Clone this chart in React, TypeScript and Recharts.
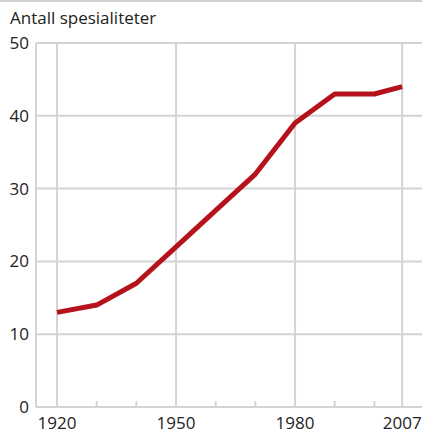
import { CartesianGrid, Line, LineChart, ReferenceLine, XAxis, YAxis } from "recharts"

const years = [1920, 1930, 1940, 1950, 1960, 1970, 1980, 1990, 2000, 2007]
const specialties = [13, 14, 17, 22, 27, 32, 39, 43, 43, 44]
const majorYears = [1920, 1950, 1980, 2007]
const yTicks = [0, 10, 20, 30, 40, 50]
const title = "Antall spesialiteter"

const data = years.map((year, i) => ({ year, value: specialties[i] }))

const FONT = "'Open Sans', 'Noto Sans', sans-serif"
const GRID = "#d4d4d4"

function YearTick(props: any) {
  const { x, y, payload } = props
  const major = majorYears.includes(payload.value)
  return (
    <g>
      {!major && <line x1={x} x2={x} y1={y} y2={y - 6} stroke={GRID} strokeWidth={2} />}
      {major && (
        <text x={x} y={y} dy={22} textAnchor="middle" fill="#222" fontSize={17} fontFamily={FONT}>
          {payload.value}
        </text>
      )}
    </g>
  )
}

export default function App() {
  return (
    <div style={{ position: "absolute", left: 0, top: 0, width: 422, height: 434, background: "#fff" }}>
      <div style={{ position: "absolute", left: 0, top: 0, width: 422, height: 0, borderTop: "2px solid #cfcfcf" }} />
      <div
        style={{
          position: "absolute",
          left: 10,
          top: 6,
          fontFamily: FONT,
          fontSize: 17,
          color: "#222",
          whiteSpace: "nowrap",
        }}
      >
        {title}
      </div>
      <LineChart width={422} height={434} data={data} margin={{ top: 43, right: 0, left: 0, bottom: 0 }}>
        <CartesianGrid vertical={false} stroke={GRID} strokeWidth={2} />
        {majorYears.map((yr) => (
          <ReferenceLine key={yr} x={yr} stroke={GRID} strokeWidth={2} />
        ))}
        <XAxis
          dataKey="year"
          type="number"
          domain={[1914.7, 2012]}
          ticks={years}
          interval={0}
          height={27}
          tickSize={0}
          tickMargin={0}
          tickLine={false}
          axisLine={{ stroke: GRID, strokeWidth: 2 }}
          tick={<YearTick />}
        />
        <YAxis
          domain={[0, 50]}
          ticks={yTicks}
          width={36}
          tickSize={0}
          tickMargin={7}
          tickLine={false}
          axisLine={{ stroke: GRID, strokeWidth: 2 }}
          tick={{ fill: "#222", fontSize: 17, fontFamily: FONT }}
        />
        <Line
          dataKey="value"
          type="linear"
          stroke="#b5121b"
          strokeWidth={5}
          dot={false}
          isAnimationActive={false}
          strokeLinejoin="round"
        />
      </LineChart>
    </div>
  )
}
